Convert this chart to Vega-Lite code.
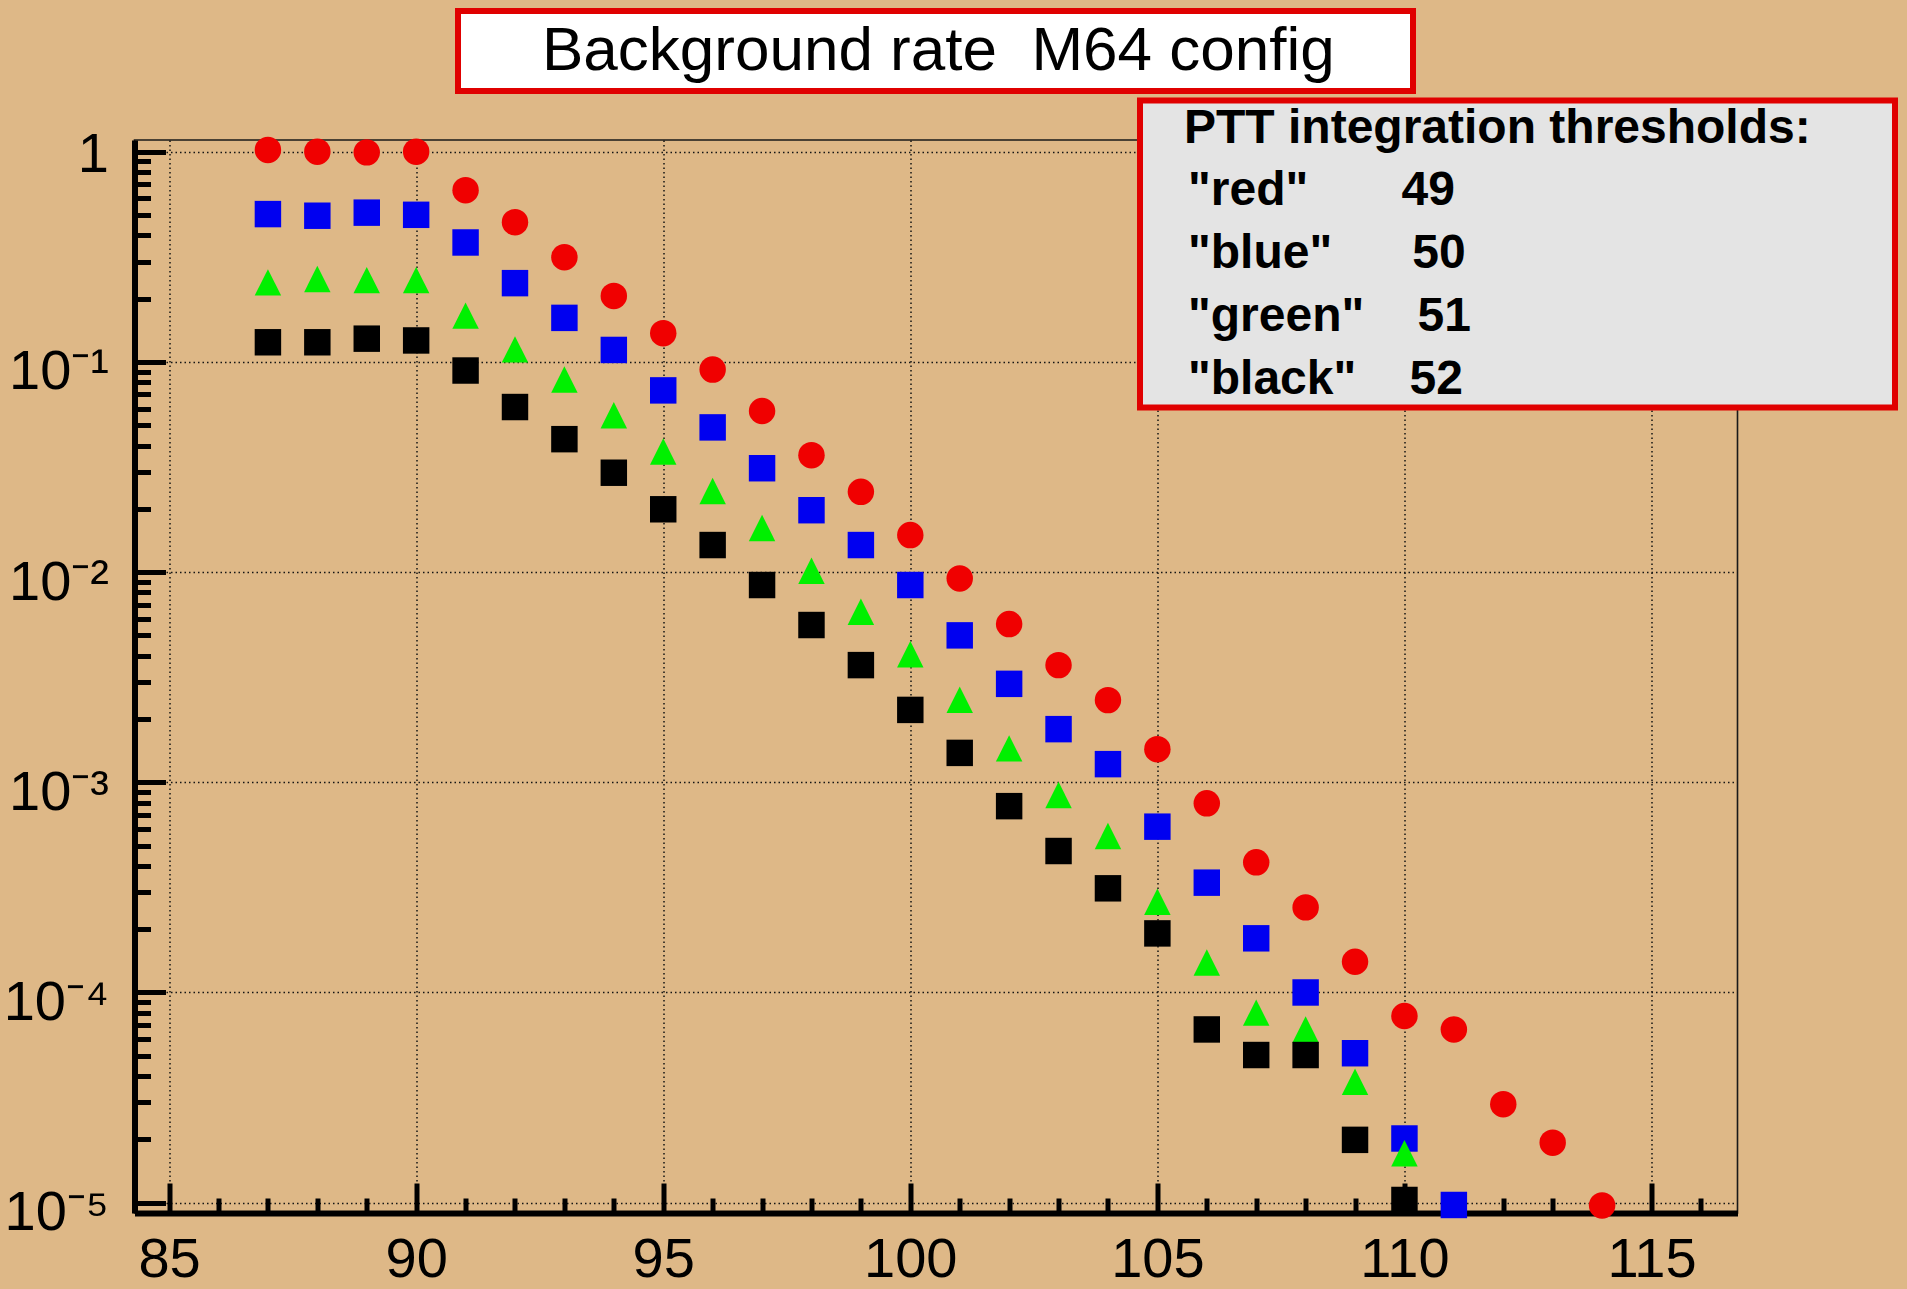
{
  "$schema": "https://vega.github.io/schema/vega-lite/v6.json",
  "width": 1603,
  "height": 1073,
  "autosize": {"type": "none"},
  "padding": {"left": 134.5, "top": 140, "right": 169.5, "bottom": 76},
  "background": "#DEB887",
  "config": {
    "view": {"fill": "#DEB887", "stroke": "#1a1a1a", "strokeWidth": 1.6},
    "font": "Liberation Sans",
    "legend": {"strokeWidth": 6}
  },
  "data": {
    "values": [
      {"energy": 87, "rate": 1.02, "series": "red"},
      {"energy": 88, "rate": 1.0, "series": "red"},
      {"energy": 89, "rate": 0.993, "series": "red"},
      {"energy": 90, "rate": 1.0, "series": "red"},
      {"energy": 91, "rate": 0.656, "series": "red"},
      {"energy": 92, "rate": 0.462, "series": "red"},
      {"energy": 93, "rate": 0.315, "series": "red"},
      {"energy": 94, "rate": 0.206, "series": "red"},
      {"energy": 95, "rate": 0.137, "series": "red"},
      {"energy": 96, "rate": 0.092, "series": "red"},
      {"energy": 97, "rate": 0.0584, "series": "red"},
      {"energy": 98, "rate": 0.036, "series": "red"},
      {"energy": 99, "rate": 0.0241, "series": "red"},
      {"energy": 100, "rate": 0.015, "series": "red"},
      {"energy": 101, "rate": 0.00933, "series": "red"},
      {"energy": 102, "rate": 0.00566, "series": "red"},
      {"energy": 103, "rate": 0.00361, "series": "red"},
      {"energy": 104, "rate": 0.00246, "series": "red"},
      {"energy": 105, "rate": 0.001437, "series": "red"},
      {"energy": 106, "rate": 0.000794, "series": "red"},
      {"energy": 107, "rate": 0.000416, "series": "red"},
      {"energy": 108, "rate": 0.000254, "series": "red"},
      {"energy": 109, "rate": 0.00014, "series": "red"},
      {"energy": 110, "rate": 0.0000773, "series": "red"},
      {"energy": 111, "rate": 0.0000667, "series": "red"},
      {"energy": 112, "rate": 0.0000294, "series": "red"},
      {"energy": 113, "rate": 0.0000193, "series": "red"},
      {"energy": 114, "rate": 0.0000097, "series": "red"},
      {"energy": 87, "rate": 0.505, "series": "blue"},
      {"energy": 88, "rate": 0.496, "series": "blue"},
      {"energy": 89, "rate": 0.513, "series": "blue"},
      {"energy": 90, "rate": 0.501, "series": "blue"},
      {"energy": 91, "rate": 0.37, "series": "blue"},
      {"energy": 92, "rate": 0.237, "series": "blue"},
      {"energy": 93, "rate": 0.162, "series": "blue"},
      {"energy": 94, "rate": 0.114, "series": "blue"},
      {"energy": 95, "rate": 0.0732, "series": "blue"},
      {"energy": 96, "rate": 0.0488, "series": "blue"},
      {"energy": 97, "rate": 0.0312, "series": "blue"},
      {"energy": 98, "rate": 0.0197, "series": "blue"},
      {"energy": 99, "rate": 0.01345, "series": "blue"},
      {"energy": 100, "rate": 0.00868, "series": "blue"},
      {"energy": 101, "rate": 0.005, "series": "blue"},
      {"energy": 102, "rate": 0.00294, "series": "blue"},
      {"energy": 103, "rate": 0.00179, "series": "blue"},
      {"energy": 104, "rate": 0.00122, "series": "blue"},
      {"energy": 105, "rate": 0.000615, "series": "blue"},
      {"energy": 106, "rate": 0.000333, "series": "blue"},
      {"energy": 107, "rate": 0.000181, "series": "blue"},
      {"energy": 108, "rate": 0.0001, "series": "blue"},
      {"energy": 109, "rate": 0.0000514, "series": "blue"},
      {"energy": 110, "rate": 0.0000202, "series": "blue"},
      {"energy": 111, "rate": 0.00000975, "series": "blue"},
      {"energy": 87, "rate": 0.239, "series": "green"},
      {"energy": 88, "rate": 0.248, "series": "green"},
      {"energy": 89, "rate": 0.245, "series": "green"},
      {"energy": 90, "rate": 0.245, "series": "green"},
      {"energy": 91, "rate": 0.166, "series": "green"},
      {"energy": 92, "rate": 0.1147, "series": "green"},
      {"energy": 93, "rate": 0.0824, "series": "green"},
      {"energy": 94, "rate": 0.0557, "series": "green"},
      {"energy": 95, "rate": 0.0375, "series": "green"},
      {"energy": 96, "rate": 0.0243, "series": "green"},
      {"energy": 97, "rate": 0.0162, "series": "green"},
      {"energy": 98, "rate": 0.01016, "series": "green"},
      {"energy": 99, "rate": 0.00648, "series": "green"},
      {"energy": 100, "rate": 0.00407, "series": "green"},
      {"energy": 101, "rate": 0.00247, "series": "green"},
      {"energy": 102, "rate": 0.00145, "series": "green"},
      {"energy": 103, "rate": 0.00087, "series": "green"},
      {"energy": 104, "rate": 0.000555, "series": "green"},
      {"energy": 105, "rate": 0.00027, "series": "green"},
      {"energy": 106, "rate": 0.000139, "series": "green"},
      {"energy": 107, "rate": 0.0000802, "series": "green"},
      {"energy": 108, "rate": 0.0000667, "series": "green"},
      {"energy": 109, "rate": 0.0000376, "series": "green"},
      {"energy": 110, "rate": 0.0000172, "series": "green"},
      {"energy": 87, "rate": 0.124, "series": "black"},
      {"energy": 88, "rate": 0.124, "series": "black"},
      {"energy": 89, "rate": 0.129, "series": "black"},
      {"energy": 90, "rate": 0.1265, "series": "black"},
      {"energy": 91, "rate": 0.091, "series": "black"},
      {"energy": 92, "rate": 0.061, "series": "black"},
      {"energy": 93, "rate": 0.0429, "series": "black"},
      {"energy": 94, "rate": 0.0297, "series": "black"},
      {"energy": 95, "rate": 0.0199, "series": "black"},
      {"energy": 96, "rate": 0.01345, "series": "black"},
      {"energy": 97, "rate": 0.00868, "series": "black"},
      {"energy": 98, "rate": 0.0056, "series": "black"},
      {"energy": 99, "rate": 0.00361, "series": "black"},
      {"energy": 100, "rate": 0.00221, "series": "black"},
      {"energy": 101, "rate": 0.00138, "series": "black"},
      {"energy": 102, "rate": 0.00077, "series": "black"},
      {"energy": 103, "rate": 0.000471, "series": "black"},
      {"energy": 104, "rate": 0.000313, "series": "black"},
      {"energy": 105, "rate": 0.000191, "series": "black"},
      {"energy": 106, "rate": 0.0000667, "series": "black"},
      {"energy": 107, "rate": 0.0000504, "series": "black"},
      {"energy": 108, "rate": 0.0000504, "series": "black"},
      {"energy": 109, "rate": 0.0000199, "series": "black"},
      {"energy": 110, "rate": 0.0000103, "series": "black"}
    ]
  },
  "layer": [
    {
      "mark": {"type": "point", "opacity": 0, "size": 10},
      "encoding": {
        "x": {
          "field": "energy", "type": "quantitative",
          "scale": {"domain": [84.3, 116.74], "nice": false, "zero": false},
          "axis": {
            "orient": "bottom", "title": null,
            "values": [86, 87, 88, 89, 91, 92, 93, 94, 96, 97, 98, 99, 101, 102, 103, 104, 106, 107, 108, 109, 111, 112, 113, 114, 116],
            "domain": false, "labels": false, "grid": false,
            "ticks": true, "tickSize": -15, "tickWidth": 5, "tickColor": "#000000"
          }
        },
        "y": {
          "field": "rate", "type": "quantitative",
          "scale": {"type": "log", "domain": [0.00000893, 1.137], "nice": false},
          "axis": {
            "orient": "left", "title": null,
            "values": [0.00002, 0.00003, 0.00004, 0.00005, 0.00006, 0.00007, 0.00008, 0.00009,
                       0.0002, 0.0003, 0.0004, 0.0005, 0.0006, 0.0007, 0.0008, 0.0009,
                       0.002, 0.003, 0.004, 0.005, 0.006, 0.007, 0.008, 0.009,
                       0.02, 0.03, 0.04, 0.05, 0.06, 0.07, 0.08, 0.09,
                       0.2, 0.3, 0.4, 0.5, 0.6, 0.7, 0.8, 0.9],
            "domain": false, "labels": false, "grid": false,
            "ticks": true, "tickSize": -16, "tickWidth": 5, "tickColor": "#000000"
          }
        }
      }
    },
    {
      "mark": {"type": "point", "filled": true, "size": 700, "opacity": 1, "strokeWidth": 0},
      "encoding": {
        "x": {
          "field": "energy", "type": "quantitative",
          "axis": {
            "orient": "bottom", "title": null,
            "values": [85, 90, 95, 100, 105, 110, 115],
            "domain": true, "domainColor": "#000000", "domainWidth": 6,
            "ticks": true, "tickSize": -30, "tickWidth": 5, "tickColor": "#000000",
            "labelFont": "Liberation Sans", "labelFontSize": 56, "labelColor": "#000000",
            "labelBaseline": "alphabetic", "labelPadding": 93.5, "labelFlush": false, "labelOverlap": false,
            "grid": true, "gridColor": "#151515", "gridDash": [1.5, 3], "gridWidth": 1.5, "gridOpacity": 1
          }
        },
        "y": {
          "field": "rate", "type": "quantitative",
          "axis": {
            "orient": "left", "title": null,
            "values": [0.00001, 0.0001, 0.001, 0.01, 0.1, 1],
            "domain": true, "domainColor": "#000000", "domainWidth": 6,
            "ticks": true, "tickSize": -31, "tickWidth": 5, "tickColor": "#000000",
            "labelFont": "Liberation Sans", "labelFontSize": 56, "labelColor": "#000000",
            "labelPadding": 57, "labelFlush": false, "labelOverlap": false,
            "labelBaseline": "alphabetic",
            "labelOffset": {"condition": {"test": "datum.value > 0.5", "value": 20}, "value": 27},
            "labelExpr": "datum.value > 0.5 ? '1' : '10⁻' + ['', '¹', '²', '³', '⁴', '⁵'][round(-log(datum.value) / LN10)]",
            "grid": true, "gridColor": "#151515", "gridDash": [1.5, 3], "gridWidth": 1.5, "gridOpacity": 1
          }
        },
        "color": {
          "field": "series", "type": "nominal",
          "scale": {"domain": ["red", "blue", "green", "black"], "range": ["#F00000", "#0000F0", "#00F000", "#000000"]},
          "legend": {
            "orient": "none", "legendX": 1005.5, "legendY": -39.5,
            "title": "\u200b\u00a0\u00a0\u00a0PTT integration thresholds:\u00a0\u00a0\u00a0\u00a0\u00a0\u00a0\u200b",
            "titleFont": "Liberation Sans", "titleFontSize": 48, "titleFontWeight": "bold", "titleColor": "#000000",
            "titleLimit": 2000, "titlePadding": 14,
            "labelFont": "Liberation Sans", "labelFontSize": 48, "labelFontWeight": "bold", "labelColor": "#000000",
            "labelLimit": 2000, "labelOffset": -4,
            "labelExpr": "datum.label == 'red' ? '\"red\"\u00a0\u00a0\u00a0\u00a0\u00a0\u00a0\u00a049' : datum.label == 'blue' ? '\"blue\"\u00a0\u00a0\u00a0\u00a0\u00a0\u00a050' : datum.label == 'green' ? '\"green\"\u00a0\u00a0\u00a0\u00a051' : '\"black\"\u00a0\u00a0\u00a0\u00a052'",
            "rowPadding": 15,
            "symbolSize": 0, "symbolOpacity": 0, "symbolStrokeWidth": 0,
            "padding": 4,
            "fillColor": "#E4E4E4", "strokeColor": "#E00000"
          }
        },
        "shape": {
          "field": "series", "type": "nominal",
          "scale": {"domain": ["red", "blue", "green", "black"], "range": ["circle", "square", "M0,-1L1,1L-1,1Z", "square"]},
          "legend": null
        },
        "strokeDash": {
          "datum": "Background rate  M64 config", "type": "nominal",
          "scale": {"range": [[1, 0]]},
          "legend": {
            "orient": "none", "legendX": 323.5, "legendY": -129,
            "title": null,
            "labelFont": "Liberation Sans", "labelFontSize": 62, "labelColor": "#000000",
            "labelLimit": 2000, "labelOffset": 13,
            "labelExpr": "replace(datum.label, '  ', '\u00a0\u00a0') + '\u00a0\u00a0\u00a0\u00a0\u200b'",
            "symbolSize": 0, "symbolOpacity": 0, "symbolStrokeWidth": 0,
            "padding": 9,
            "fillColor": "#FFFFFF", "strokeColor": "#E00000"
          }
        }
      }
    }
  ],
  "resolve": {"axis": {"x": "independent", "y": "independent"}}
}
